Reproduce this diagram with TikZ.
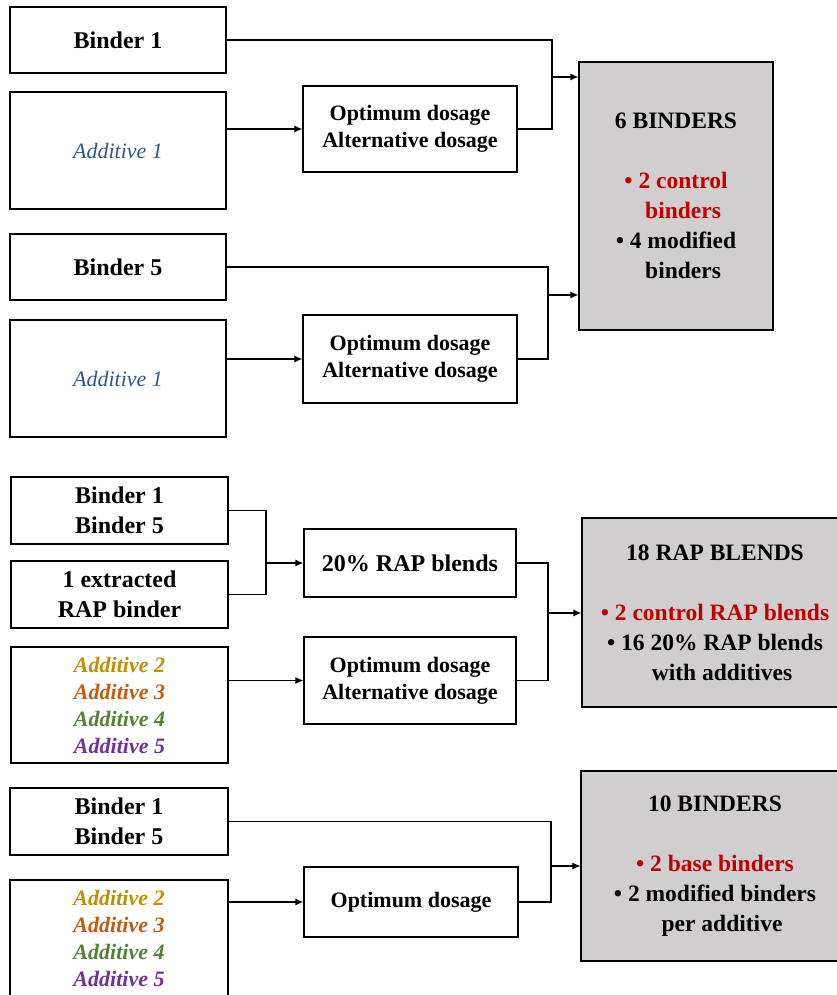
\documentclass[tikz,border=0pt]{standalone}
\usepackage{fontspec}
\setmainfont{Liberation Serif}
\usetikzlibrary{arrows.meta}
\definecolor{addblue}{RGB}{47,85,151}
\definecolor{addgold}{RGB}{191,144,0}
\definecolor{addorange}{RGB}{197,90,17}
\definecolor{addgreen}{RGB}{84,130,53}
\definecolor{addpurple}{RGB}{112,48,160}
\definecolor{ctrlred}{RGB}{192,0,0}
\definecolor{sumgray}{RGB}{208,206,206}
\newcommand{\cont}{\hphantom{\textbullet\ }}

\begin{document}
\begin{tikzpicture}[x=1pt, y=-1pt,
        box/.style={draw, line width=1.2pt, inner sep=0pt, align=center,
            font=\fontsize{24}{30}\selectfont\bfseries},
        dosebox/.style={box, font=\fontsize{22}{27}\selectfont\bfseries},
        addbox/.style={box, font=\fontsize{22}{27}\selectfont\itshape},
        mixbox/.style={box, font=\fontsize{22}{27}\selectfont\bfseries\itshape},
        sumbox/.style={box, fill=sumgray, font=\fontsize{23.5}{30}\selectfont\bfseries},
        link/.style={line width=1.2pt},
        feed/.style={link, -{Latex[length=8pt, width=7pt]}}]
                \useasboundingbox (0,0) rectangle (837,995);
                \node[box, minimum width=216, minimum height=66] (b1a) at (118,40) {Binder 1};
                \node[addbox, minimum width=216, minimum height=117] (a1a) at (118,150.5) {\textcolor{addblue}{Additive 1}};
                \node[dosebox, minimum width=214, minimum height=86] (d1) at (410,129) {Optimum dosage\\Alternative dosage};
                \node[sumbox, minimum width=194, minimum height=268] (r1) at (676,196)
                    {6 BINDERS\\[30pt]\textcolor{ctrlred}{\textbullet\ 2 control}\\\textcolor{ctrlred}{\cont binders}\\\textbullet\ 4 modified\\\cont binders};
                \node[box, minimum width=216, minimum height=66] (b5) at (118,267) {Binder 5};
                \node[addbox, minimum width=216, minimum height=117] (a1b) at (118,378.5) {\textcolor{addblue}{Additive 1}};
                \node[dosebox, minimum width=214, minimum height=88] (d2) at (410,359) {Optimum dosage\\Alternative dosage};
                \node[box, minimum width=217, minimum height=67] (b15a) at (119.5,510.5) {Binder 1\\Binder 5};
                \node[box, minimum width=217, minimum height=67] (rap) at (119.5,594.5) {1 extracted\\RAP binder};
                \node[mixbox, minimum width=217, minimum height=116] (a25a) at (119.5,705)
                    {\textcolor{addgold}{Additive 2}\\\textcolor{addorange}{Additive 3}\\\textcolor{addgreen}{Additive 4}\\\textcolor{addpurple}{Additive 5}};
                \node[box, minimum width=212, minimum height=68] (blend) at (410,563) {20\% RAP blends};
                \node[dosebox, minimum width=212, minimum height=87] (d3) at (410,680.5) {Optimum dosage\\Alternative dosage};
                \node[sumbox, minimum width=266, minimum height=189] (r2) at (715,612.5)
                    {18 RAP BLENDS\\[30pt]\textcolor{ctrlred}{\textbullet\ 2 control RAP blends}\\\textbullet\ 16 20\% RAP blends\\\cont with additives};
                \node[box, minimum width=218, minimum height=67] (b15b) at (119,821.5) {Binder 1\\Binder 5};
                \node[mixbox, minimum width=218, minimum height=117] (a25b) at (119,938.5)
                    {\textcolor{addgold}{Additive 2}\\\textcolor{addorange}{Additive 3}\\\textcolor{addgreen}{Additive 4}\\\textcolor{addpurple}{Additive 5}};
                \node[dosebox, minimum width=214, minimum height=70] (d4) at (411,902) {Optimum dosage};
                \node[sumbox, minimum width=268, minimum height=190] (r3) at (715,866)
                    {10 BINDERS\\[30pt]\textcolor{ctrlred}{\textbullet\ 2 base binders}\\\textbullet\ 2 modified binders\\\cont per additive};
                \coordinate (j1) at (552,77);
                \coordinate (j2) at (548,295);
                \coordinate (j3) at (266,563);
                \coordinate (j4) at (548,613);
                \coordinate (j5) at (551,866);
                \draw[link] (b1a.east) -| (j1);
                \draw[link] (d1.east) -| (j1);
                \draw[feed] (j1) -- (j1 -| r1.west);
                \draw[feed] (a1a.east |- d1.west) -- (d1.west);
                \draw[link] (b5.east) -| (j2);
                \draw[link] (d2.east) -| (j2);
                \draw[feed] (j2) -- (j2 -| r1.west);
                \draw[feed] (a1b.east |- d2.west) -- (d2.west);
                \draw[link] (b15a.east) -| (j3);
                \draw[link] (rap.east) -| (j3);
                \draw[feed] (j3) -- (blend.west);
                \draw[feed] (a25a.east |- d3.west) -- (d3.west);
                \draw[link] (blend.east) -| (j4);
                \draw[link] (d3.east) -| (j4);
                \draw[feed] (j4) -- (j4 -| r2.west);
                \draw[link] (b15b.east) -| (j5);
                \draw[link] (d4.east) -| (j5);
                \draw[feed] (j5) -- (j5 -| r3.west);
                \draw[feed] (a25b.east |- d4.west) -- (d4.west);
            \end{tikzpicture}
\end{document}
